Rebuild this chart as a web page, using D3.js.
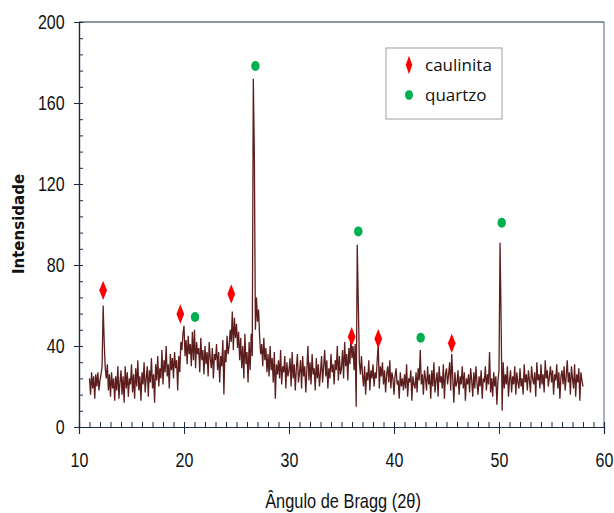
<!DOCTYPE html>
<html>
<head>
<meta charset="utf-8">
<script src="https://cdn.jsdelivr.net/npm/d3@7/dist/d3.min.js"></script>
<style>
  body { margin: 0; background: #fff; }
  svg { display: block; }
</style>
</head>
<body>
<svg id="chart"></svg>
<script>
// scan settings (2theta, degrees)
var startAngle = 11.0
var stepAngle = 0.1

// intensity, one line per degree (x.0 .. x.9)
var intensity = [
  24,16,27,19,25,14,26,20,27,18,   // 11
  23,26,30,60,42,29,24,31,18,26,   // 12
  15,27,19,24,13,25,18,30,14,22,   // 13
  28,16,25,12,30,19,27,15,24,21,   // 14
  31,17,26,14,29,20,33,18,25,13,   // 15
  27,21,32,17,24,30,15,28,22,34,   // 16
  19,26,12,31,23,35,20,29,24,38,   // 17
  21,33,27,40,25,31,19,36,28,34,   // 18
  24,37,29,33,18,35,27,42,38,46,   // 19
  50,35,43,31,45,36,41,30,47,33,   // 20
  48,29,42,36,39,27,44,33,38,26,   // 21
  40,31,37,25,42,34,29,39,24,36,   // 22
  33,41,28,37,22,35,30,43,16,38,   // 23
  32,45,36,40,48,42,57,38,54,44,   // 24
  51,39,47,33,44,29,40,24,46,31,   // 25
  37,22,42,28,46,35,172,134,48,64, // 26
  52,58,45,36,41,30,44,33,39,27,   // 27
  36,25,40,28,34,22,37,14,31,26,   // 28
  33,24,38,21,30,27,35,19,32,25,   // 29
  28,34,20,37,24,31,18,29,36,22,   // 30
  27,33,19,35,25,30,17,28,40,23,   // 31
  32,21,36,26,29,18,34,24,31,20,   // 32
  27,35,22,30,38,25,33,19,29,24,   // 33
  36,27,31,21,33,28,40,23,35,26,   // 34
  29,38,24,42,30,36,23,39,31,45,   // 35
  34,40,28,41,10,90,61,32,26,35,   // 36
  26,20,30,16,27,23,33,18,28,24,   // 37
  31,20,27,24,33,41,19,30,25,32,   // 38
  21,28,17,26,30,22,33,19,27,24,   // 39
  16,25,29,21,23,14,27,20,24,18,   // 40
  26,19,31,15,24,22,28,13,25,21,   // 41
  19,27,17,29,23,38,21,26,16,28,   // 42
  24,18,30,21,26,14,28,20,32,17,   // 43
  23,27,15,30,22,25,19,31,14,26,   // 44
  29,21,26,32,18,36,24,12,27,20,   // 45
  22,28,16,25,21,30,19,27,13,24,   // 46
  21,26,17,29,23,15,27,19,30,22,   // 47
  16,25,20,28,14,24,22,30,18,26,   // 48
  21,37,17,24,15,27,20,25,11,23,   // 49
  28,91,53,8,32,19,26,21,30,15,    // 50
  23,28,17,25,21,30,16,27,22,19,   // 51
  29,20,24,16,31,22,26,18,28,23,   // 52
  17,30,24,21,27,15,32,23,26,19,   // 53
  31,21,26,17,33,24,28,20,25,30,   // 54
  22,28,16,26,23,31,19,27,14,25,   // 55
  28,21,30,18,25,33,22,27,16,30,   // 56
  24,19,31,15,26,22,29,13,27,23,   // 57
  20                               // 58
]

// peak markers
var caulinitaAngles = [12.3, 19.65, 24.5, 35.97, 38.5, 45.5]
var caulinitaValues = [67.5, 55.8, 65.7, 44.6, 43.6, 41.3]
var quartzoAngles = [21.05, 26.8, 36.6, 42.54, 50.26]
var quartzoValues = [54.3, 178.3, 96.6, 44.1, 100.9]

var xTicks = [10, 20, 30, 40, 50, 60]
var yTicks = [0, 40, 80, 120, 160, 200]
var legendNames = ["caulinita", "quartzo"]

var screen = {width: 614, height: 513}
var margin = {left: 79, right: 10, top: 22, bottom: 86}

var axisColor = "#1c2a45"
var lineColor = "#5c1d1d"
var red = "#ff0000"
var green = "#00b050"

var svg = d3.select("#chart")
    .attr("width", screen.width)
    .attr("height", screen.height)

var xScale = d3.scaleLinear()
    .domain([10, 60])
    .range([margin.left, screen.width - margin.right])
var yScale = d3.scaleLinear()
    .domain([0, 200])
    .range([screen.height - margin.bottom, margin.top])

var points = intensity.map(function(v, i) {
    return {x: startAngle + i * stepAngle, y: v}
})

// frame: top and right border
svg.append("line")
    .attr("x1", xScale(10)).attr("x2", xScale(60))
    .attr("y1", yScale(200)).attr("y2", yScale(200))
    .attr("stroke", axisColor).attr("stroke-width", 1)
svg.append("line")
    .attr("x1", xScale(60)).attr("x2", xScale(60))
    .attr("y1", yScale(200)).attr("y2", yScale(0))
    .attr("stroke", "#55657a").attr("stroke-width", 1)

// data trace
var line = d3.line()
    .x(function(p) { return xScale(p.x) })
    .y(function(p) { return yScale(p.y) })
svg.append("path")
    .datum(points)
    .attr("d", line)
    .attr("fill", "none")
    .attr("stroke", lineColor)
    .attr("stroke-width", 1.3)
    .attr("stroke-linejoin", "miter")

// axes
var tickFont = "'Liberation Sans', Arial, sans-serif"

var xMinor = svg.append("g")
    .attr("transform", "translate(0," + yScale(0) + ")")
    .call(d3.axisBottom(xScale).tickValues(d3.range(10, 61, 1)).tickSize(-5).tickFormat(""))
var xMajor = svg.append("g")
    .attr("transform", "translate(0," + yScale(0) + ")")
    .call(d3.axisBottom(xScale).tickValues(xTicks).tickSize(7).tickPadding(19).tickFormat(d3.format("d")))

var yMinor = svg.append("g")
    .attr("transform", "translate(" + xScale(10) + ",0)")
    .call(d3.axisLeft(yScale).tickValues(d3.range(0, 201, 8)).tickSize(-4).tickFormat(""))
var yMajor = svg.append("g")
    .attr("transform", "translate(" + xScale(10) + ",0)")
    .call(d3.axisLeft(yScale).tickValues(yTicks).tickSize(5).tickPadding(13).tickFormat(d3.format("d")))

svg.selectAll(".domain").attr("stroke", axisColor).attr("stroke-width", 1.2)
svg.selectAll(".tick line").attr("stroke", axisColor).attr("stroke-width", 1)
// condensed look of the original tick labels
svg.selectAll(".tick text")
    .attr("font-family", tickFont)
    .attr("font-size", 20)
    .attr("fill", "#111")
    .attr("transform", "scale(0.8,1)")

// axis titles
svg.append("text")
    .attr("transform", "translate(343,508) scale(0.82,1)")
    .attr("text-anchor", "middle")
    .attr("font-family", tickFont)
    .attr("font-size", 20)
    .attr("fill", "#111")
    .text("Ângulo de Bragg (2θ)")

svg.append("text")
    .attr("transform", "translate(24," + 224 + ") rotate(-90)")
    .attr("text-anchor", "middle")
    .attr("font-family", "'DejaVu Sans', sans-serif")
    .attr("font-weight", "bold")
    .attr("font-size", 15)
    .attr("fill", "#111")
    .text("Intensidade")

// markers
var diamond = d3.symbol().type(d3.symbolDiamond).size(64)
svg.selectAll(".caul")
    .data(caulinitaAngles)
    .enter()
    .append("path")
    .attr("class", "caul")
    .attr("d", diamond)
    .attr("transform", function(a, i) {
        return "translate(" + xScale(a) + "," + yScale(caulinitaValues[i]) + ") scale(0.9,1.3)"
    })
    .attr("fill", red)

svg.selectAll(".quartz")
    .data(quartzoAngles)
    .enter()
    .append("ellipse")
    .attr("class", "quartz")
    .attr("cx", function(a) { return xScale(a) })
    .attr("cy", function(a, i) { return yScale(quartzoValues[i]) })
    .attr("rx", 4.2)
    .attr("ry", 5)
    .attr("fill", green)

// legend
var legend = svg.append("g").attr("transform", "translate(386,48)")
legend.append("rect")
    .attr("width", 116).attr("height", 71)
    .attr("fill", "#fff")
    .attr("stroke", "#a0a0a0")
    .attr("stroke-width", 1)
legend.append("path")
    .attr("d", diamond)
    .attr("transform", "translate(23,17) scale(0.75,1.25)")
    .attr("fill", red)
legend.append("ellipse")
    .attr("cx", 23).attr("cy", 47)
    .attr("rx", 4).attr("ry", 4.8)
    .attr("fill", green)
legend.selectAll("text")
    .data(legendNames)
    .enter()
    .append("text")
    .attr("x", 39)
    .attr("y", function(d, i) { return 17 + i * 30 })
    .attr("dy", "0.35em")
    .attr("font-family", "'Open Sans', sans-serif")
    .attr("font-size", 17)
    .attr("fill", "#111")
    .text(function(d) { return d })
</script>
</body>
</html>
